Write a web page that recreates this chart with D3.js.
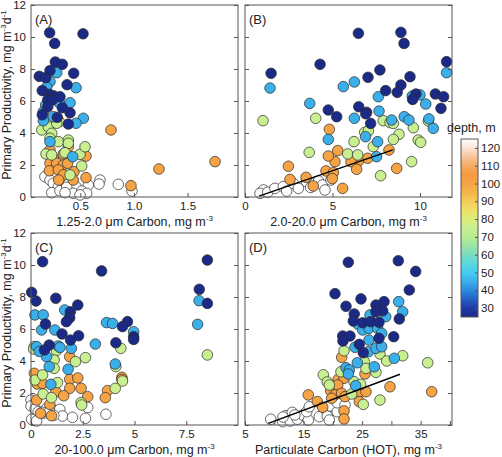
<!DOCTYPE html>
<html><head><meta charset="utf-8">
<script src="https://cdn.jsdelivr.net/npm/d3@7"></script>
<style>
body{margin:0;background:#fff}
text{font-family:"Liberation Sans",Arial,sans-serif;fill:#222}
</style>
</head><body>
<svg id="chart" width="502" height="457"></svg>
<script>
// ---------------- DATA ----------------
const depthLevels = [125, 100, 75, 45, 25];   // m (draw order)
const yTicks = [0, 2, 4, 6, 8, 10, 12];
const cbarTicks = [30, 40, 50, 60, 70, 80, 90, 100, 110, 120];

// Panel A: 1.25-2.0 um carbon vs PP
const A_25 = [[0.214,10.27],[0.525,10.2],[0.261,9.6],[0.267,8.44],[0.332,8.29],[0.217,7.9],[0.438,7.73],[0.117,7.54],[0.177,7.46],[0.376,7.02],[0.145,6.65],[0.211,6.42],[0.248,6.33],[0.31,6.27],[0.196,6.06],[0.239,6.06],[0.332,5.58],[0.196,5.64],[0.145,5.14],[0.404,5.27],[0.285,4.98],[0.388,4.56]];
const A_45 = [[0.28,7.77],[0.217,7.21],[0.186,6.86],[0.46,6.83],[0.226,6.27],[0.304,5.89],[0.404,5.89],[0.155,5.33],[0.177,5.75],[0.248,5.02],[0.528,4.92],[0.155,4.77],[0.46,4.61],[0.217,3.46],[0.429,2.52]];
const A_75 = [[0.14,4.19],[0.201,4.39],[0.304,4.71],[0.28,4.61],[0.233,3.98],[0.217,3.67],[0.295,3.46],[0.388,3.56],[0.388,3.36],[0.18,2.69],[0.233,2.63],[0.357,2.77],[0.497,2.67],[0.544,3.14],[0.513,1.94],[0.404,1.38]];
const A_100 = [[0.786,4.19],[0.388,3.14],[0.217,2.94],[0.248,2.42],[0.217,2.11],[0.28,2.11],[0.341,2.0],[0.382,2.11],[0.553,2.56],[0.211,1.64],[0.295,1.69],[0.341,1.38],[0.441,1.58],[0.553,1.21],[0.298,1.06],[0.434,1.06],[1.233,1.75],[1.756,2.21],[0.972,0.71],[0.341,2.69]];
const A_125 = [[0.17,1.27],[0.217,1.06],[0.248,0.86],[0.295,0.64],[0.388,0.81],[0.46,0.64],[0.574,0.75],[0.683,1.06],[0.674,0.81],[0.854,0.79],[0.233,0.27],[0.31,0.39],[0.373,0.61],[0.434,0.23],[0.513,0.37],[0.559,0.23],[0.982,0.37],[0.357,0.27],[0.497,0.13]];

// Panel B: 2.0-20.0 um carbon vs PP
const B_25 = [[6.48,10.23],[8.91,10.29],[9.09,9.6],[11.52,8.46],[1.49,7.73],[4.29,8.29],[7.71,7.94],[7.03,7.48],[9.43,7.52],[8.91,7.0],[8.04,6.65],[8.70,6.54],[9.77,6.44],[9.58,6.1],[10.88,6.44],[11.35,6.27],[11.2,5.54],[4.76,5.44],[5.24,5.02],[6.50,5.64],[6.95,5.29],[6.9,5.2],[7.18,4.6]];
const B_45 = [[11.52,7.77],[1.43,6.81],[5.62,6.9],[6.25,7.19],[3.70,5.85],[7.62,6.27],[9.56,6.31],[10.0,6.38],[10.33,5.81],[6.25,4.92],[7.66,5.37],[8.38,4.81],[9.1,5.02],[9.37,4.81],[10.51,4.88],[10.76,4.29],[4.76,3.6],[6.89,3.77],[7.58,3.46],[7.52,2.52]];
const B_75 = [[1.03,4.77],[4.04,4.92],[7.90,4.77],[8.29,4.65],[8.48,4.6],[9.62,4.33],[10.48,4.75],[6.84,4.04],[7.05,4.13],[8.8,3.92],[8.48,3.6],[6.23,3.46],[7.33,3.15],[9.9,3.56],[10.04,3.42],[3.67,2.79],[5.87,2.69],[6.44,2.63],[9.52,2.21],[7.75,1.33]];
const B_100 = [[4.82,4.23],[5.3,2.9],[5.14,2.21],[4.76,2.56],[7.01,2.42],[6.48,2.25],[6.06,2.21],[8.23,2.94],[2.48,1.92],[4.63,1.63],[5.05,1.52],[6.38,1.73],[8.67,1.79],[2.57,1.1],[3.49,1.23],[4.99,1.15],[3.9,0.69],[5.58,0.54]];
const B_125 = [[1.05,0.44],[0.86,0.23],[1.3,0.3],[1.71,0.54],[2.19,0.65],[2.38,0.37],[2.76,0.85],[3.05,0.54],[3.52,0.96],[3.75,0.6],[3.96,0.85],[4.2,1.0],[4.42,0.75],[4.57,0.44],[4.91,1.06]];
const B_fit = [[0.8,0.05],[8.45,2.95]];

// Panel C: 20-100.0 um carbon vs PP
const C_25 = [[0.56,10.21],[3.41,9.63],[8.52,10.31],[0.03,8.29],[0.24,7.75],[1.20,7.92],[8.13,8.48],[8.52,7.6],[2.26,7.5],[1.90,7.08],[1.87,6.7],[1.71,6.46],[0.70,6.31],[1.50,5.69],[1.91,5.31],[2.30,5.58],[4.66,6.46],[4.42,6.15],[4.10,5.14],[4.96,5.52],[4.96,5.35],[0.88,5.0],[0.65,4.69]];
const C_45 = [[0.19,6.88],[0.59,6.88],[1.63,7.19],[8.12,7.77],[0.51,5.94],[1.15,5.94],[3.65,6.4],[3.94,6.35],[8.05,6.29],[4.96,5.83],[3.11,5.06],[1.31,4.94],[1.4,4.85],[1.95,4.79],[0.27,4.9],[0.75,4.27],[0.88,3.65],[1.79,3.48],[4.07,3.81],[0.96,2.54],[0.4,4.6]];
const C_75 = [[0.16,4.90],[0.13,4.75],[1.23,4.65],[1.12,4.06],[2.15,3.96],[2.63,4.21],[4.34,4.79],[1.12,3.54],[4.10,3.65],[0.19,2.81],[0.56,3.13],[1.28,2.65],[4.42,2.75],[0.59,1.94],[0.99,1.71],[4.07,2.29],[8.52,4.38],[2.42,1.40],[2.45,1.25]];
const C_100 = [[0.16,3.23],[0.30,2.56],[0.56,2.6],[1.87,4.27],[1.87,2.85],[2.26,2.94],[1.20,2.08],[1.87,2.29],[2.42,2.29],[1.58,1.83],[2.74,1.77],[3.70,2.15],[3.59,1.71],[4.39,2.98],[4.39,2.85],[0.27,1.56],[0.91,1.29],[0.46,0.73],[0.99,0.58]];
const C_125 = [[0.0,1.56],[0.0,1.19],[0.2,1.0],[0.35,0.83],[0.75,1.04],[0.65,0.75],[1.15,0.9],[1.39,0.98],[1.52,0.56],[2.0,0.48],[2.63,0.42],[2.74,1.1],[3.62,0.67],[0.03,0.35],[0.27,0.25],[0.55,0.8],[0.9,0.85],[1.1,0.6]];

// Panel D: particulate carbon (HOT) vs PP
const D_25 = [[22.64,10.17],[31.18,10.27],[34.15,9.6],[33.06,8.44],[20.37,8.21],[24.81,7.88],[22.25,7.42],[28.74,7.71],[27.37,7.5],[28.51,7.14],[27.37,7.08],[23.66,6.94],[23.49,6.5],[25.1,6.39],[26.47,6.46],[27.88,6.42],[31.35,6.63],[21.68,5.56],[22.93,5.56],[21.73,5.25],[27.88,5.42],[30.39,5.52],[24.52,5.04],[25.2,4.52]];
const D_45 = [[31.25,7.71],[31.93,7.08],[26.35,6.88],[29.03,6.77],[24.25,6.31],[25.1,5.94],[26.17,6.04],[27.66,6.04],[28.34,5.73],[26.17,5.31],[23.78,4.86],[26.06,4.58],[27.37,4.79],[28.34,4.89],[24.18,3.89],[30.5,4.17],[27.08,3.64],[22.25,3.58],[22.81,3.44],[22.64,3.19],[23.9,2.46]];
const D_75 = [[21.91,4.64],[28.05,4.44],[29.2,4.0],[31.93,4.33],[36.2,3.89],[25.37,3.96],[25.66,3.54],[27.37,3.29],[18.37,3.14],[19.05,2.69],[19.4,2.5],[21.39,3.33],[23.61,2.71],[24.76,2.54],[23.22,1.94],[28.05,1.56],[25.2,1.29]];
const D_100 = [[21.51,4.23],[25.49,3.19],[20.93,2.86],[21.91,2.92],[19.63,2.14],[20.83,2.5],[20.37,1.88],[21.51,1.98],[22.08,1.77],[19.8,1.67],[15.81,1.88],[17.35,1.46],[18.27,1.11],[24.64,2.08],[25.66,2.08],[29.76,2.39],[36.88,2.08],[24.52,1.46],[21.91,0.88],[21.91,0.38]];
const D_125 = [[9.39,0.36],[11.44,0.21],[12.0,0.58],[13.08,0.79],[12.68,0.25],[13.93,0.36],[14.85,0.63],[15.81,0.31],[15.54,0.83],[15.98,1.14],[17.69,0.52],[18.83,0.94],[19.05,0.56],[19.63,1.19],[20.76,0.83],[20.76,1.39],[19.4,0.31],[22.08,1.25],[11.5,0.5],[13.5,0.63]];
const D_fit = [[8.98,0.1],[31.47,3.17]];

// axis ticks / labels
const A_xTicks = [0.5, 1.0, 1.5];
const B_xTicks = [0, 5, 10];
const C_xTicks = [0, 2.5, 5, 7.5];
const D_xTicks = [5, 10, 15, 20, 25, 30, 35, 40];
const D_xLabels = [5, 15, 25, 35];

// ---------------- STYLE / LAYOUT ----------------
const cmapStops = [[25,"#1b2a87"],[30,"#1f3aa6"],[35,"#2560c4"],[40,"#2b8ade"],[45,"#3aafea"],[50,"#45ccf2"],[55,"#5ad8dc"],[60,"#78dcc0"],[65,"#9ce4a4"],[70,"#b6ec90"],[75,"#c8ef90"],[80,"#dcee78"],[85,"#ece068"],[90,"#f4cc58"],[95,"#f5b448"],[100,"#f5a345"],[105,"#f59a40"],[110,"#f6aa62"],[115,"#f8c49a"],[120,"#fbe4d4"],[125,"#ffffff"]];
const cmap = d3.scaleLinear().domain(cmapStops.map(d=>d[0])).range(cmapStops.map(d=>d[1]));

const svg = d3.select("#chart");
const W = 207, H = 192;
const frameColor = "#555";

const panels = [
  {label:"(A)", left:31, top:5, xDomain:[0.04,1.97], ticks:A_xTicks, fmt:d=>d3.format(".1f")(d), groups:[A_125,A_100,A_75,A_45,A_25], fit:null, yLabels:true,
   title:["1.25-2.0 \u03bcm Carbon, mg m","-3"]},
  {label:"(B)", left:245, top:5, xDomain:[0,11.83], ticks:B_xTicks, fmt:d=>d, groups:[B_125,B_100,B_75,B_45,B_25], fit:B_fit, yLabels:false,
   title:["2.0-20.0 \u03bcm Carbon, mg m","-3"]},
  {label:"(C)", left:31, top:233, xDomain:[0,10], ticks:C_xTicks, fmt:d=>d, groups:[C_125,C_100,C_75,C_45,C_25], fit:null, yLabels:true,
   title:["20-100.0 \u03bcm Carbon, mg m","-3"]},
  {label:"(D)", left:245, top:233, xDomain:[5,40.35], ticks:D_xTicks, fmt:d=>D_xLabels.includes(d)?d:"", groups:[D_125,D_100,D_75,D_45,D_25], fit:D_fit, yLabels:false,
   title:["Particulate Carbon (HOT), mg m","-3"]}
];

panels.forEach(p => {
  const x = d3.scaleLinear().domain(p.xDomain).range([p.left, p.left + W]);
  const y = d3.scaleLinear().domain([0, 12]).range([p.top + H, p.top]);
  const g = svg.append("g");

  // points
  p.groups.forEach((grp, i) => {
    const depth = depthLevels[i];
    g.append("g").selectAll("circle").data(grp).join("circle")
      .attr("cx", d => x(d[0])).attr("cy", d => y(d[1])).attr("r", 5.3)
      .attr("fill", cmap(depth)).attr("stroke", "#2a2a2a").attr("stroke-width", 0.7);
  });

  // fit line
  if (p.fit) {
    g.append("path").datum(p.fit)
      .attr("d", d3.line().x(d => x(d[0])).y(d => y(d[1])))
      .attr("stroke", "#000").attr("stroke-width", 1.4).attr("fill", "none");
  }

  // axes (inward ticks)
  const bottom = g.append("g").attr("transform", `translate(0,${p.top + H})`)
    .call(d3.axisBottom(x).tickValues(p.ticks).tickSize(-4).tickPadding(5).tickFormat(p.fmt));
  const left = g.append("g").attr("transform", `translate(${p.left},0)`)
    .call(d3.axisLeft(y).tickValues(yTicks).tickSize(-4).tickPadding(5).tickFormat(p.yLabels ? d => d : ""));
  const right = g.append("g").attr("transform", `translate(${p.left + W},0)`)
    .call(d3.axisRight(y).tickValues(yTicks).tickSize(-4).tickFormat(""));
  [bottom, left, right].forEach(a => {
    a.select(".domain").remove();
    a.selectAll("line").attr("stroke", frameColor);
    a.selectAll("text").attr("font-size", 11.5).style("font-family", '"Liberation Sans",Arial,sans-serif').attr("fill", "#222");
  });

  // frame
  g.append("rect").attr("x", p.left).attr("y", p.top).attr("width", W).attr("height", H)
    .attr("fill", "none").attr("stroke", frameColor).attr("stroke-width", 1);

  // panel label
  g.append("text").attr("x", p.left + 4).attr("y", p.top + 19).attr("font-size", 13).text(p.label);

  // x title
  const t = g.append("text").attr("x", p.left + W / 2).attr("y", p.top + H + 29)
    .attr("text-anchor", "middle").attr("font-size", 12.5);
  t.append("tspan").text(p.title[0]);
  t.append("tspan").attr("font-size", 8).attr("dy", -5).text(p.title[1]);

  // y title
  if (p.yLabels) {
    const yt = g.append("text").attr("transform", `translate(11,${p.top + H / 2 - 6}) rotate(-90)`)
      .attr("text-anchor", "middle").attr("font-size", 12.5);
    yt.append("tspan").text("Primary Productivity, mg m");
    yt.append("tspan").attr("font-size", 8).attr("dy", -5).text("-3");
    yt.append("tspan").attr("dy", 5).text("d");
    yt.append("tspan").attr("font-size", 8).attr("dy", -5).text("-1");
  }
});

// ---------------- COLORBAR ----------------
const cb = {x: 461, y: 139, w: 17, h: 178};
const cbScale = d3.scaleLinear().domain([25, 125]).range([cb.y + cb.h, cb.y]);
const defs = svg.append("defs");
const grad = defs.append("linearGradient").attr("id", "cbgrad").attr("x1", 0).attr("y1", 1).attr("x2", 0).attr("y2", 0);
grad.selectAll("stop").data(cmapStops).join("stop")
  .attr("offset", d => (d[0] - 25) / 100).attr("stop-color", d => d[1]);
svg.append("rect").attr("x", cb.x).attr("y", cb.y).attr("width", cb.w).attr("height", cb.h)
  .attr("fill", "url(#cbgrad)").attr("stroke", frameColor).attr("stroke-width", 1);
const cbAxis = svg.append("g").attr("transform", `translate(${cb.x + cb.w},0)`)
  .call(d3.axisRight(cbScale).tickValues(cbarTicks).tickSize(-3).tickPadding(3));
cbAxis.select(".domain").remove();
cbAxis.selectAll("line").attr("stroke", frameColor);
cbAxis.selectAll("text").attr("font-size", 11.5).style("font-family", '"Liberation Sans",Arial,sans-serif').attr("fill", "#222");
svg.append("text").attr("x", 447).attr("y", 132).attr("font-size", 12.5).text("depth, m");
</script>
</body></html>
